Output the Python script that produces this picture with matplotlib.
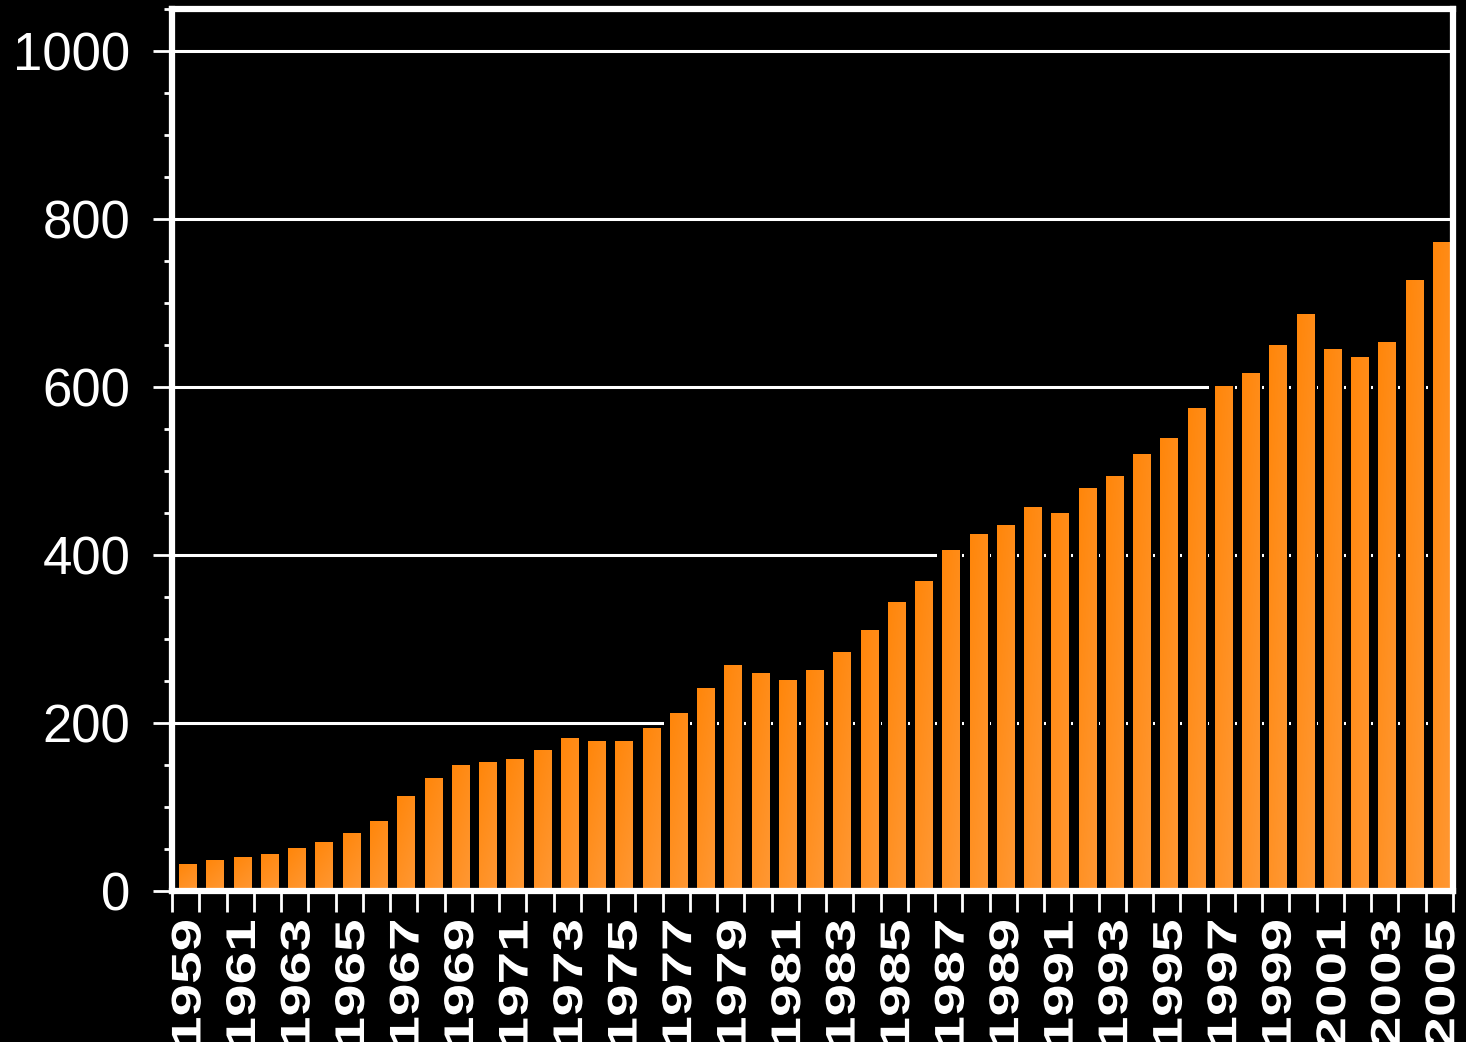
import numpy as np
import matplotlib
matplotlib.use("Agg")
from matplotlib import pyplot as plt
from matplotlib.textpath import TextPath
from matplotlib.patches import PathPatch
from matplotlib.font_manager import FontProperties
from matplotlib.transforms import Affine2D

# data
years = list(range(1959, 2006))
values = [32, 36, 40, 43, 51, 58, 68, 83, 112, 134, 149, 153, 156, 167, 182, 178,
          178, 193, 211, 241, 269, 259, 251, 262, 284, 310, 343, 369, 405, 424, 435,
          457, 449, 479, 493, 520, 539, 575, 601, 616, 649, 686, 645, 635, 653, 727, 772]
y_ticks = [0, 200, 400, 600, 800, 1000]
x_labels = [str(y) for y in years[::2]]

W, H = 1466, 1042
fig = plt.figure(figsize=(W / 100, H / 100), dpi=100, facecolor="black")
ax = fig.add_axes([172 / W, 151 / H, 1281 / W, 882 / H])
ax.set_facecolor("black")

# gridlines behind the bars
for t in y_ticks[1:]:
    ax.axhline(t, color="white", lw=2.2, zorder=0)

x = np.arange(len(years))
# dark shadow behind each bar
ax.bar(x + 0.03, np.array(values) + 2, width=0.93, color="black", zorder=1)

# orange gradient bars (top-left darker, bottom-right lighter)
gy, gx = np.mgrid[0:1:64j, 0:1:64j]
tt = np.clip(0.65 * gy + 0.35 * gx, 0, 1)
top = np.array([255, 134, 10]) / 255
bot = np.array([255, 152, 52]) / 255
grad = top * (1 - tt[..., None]) + bot * tt[..., None]
bw = 0.63
for xi, v in zip(x, values):
    ax.imshow(grad[::-1], extent=[xi + 0.08 - bw / 2, xi + 0.08 + bw / 2, 0, v],
              origin="lower", aspect="auto", zorder=2, interpolation="bilinear")
ax.set_xlim(-0.5, len(years) - 0.5)
ax.set_ylim(0, 1050)

# frame
for s in ax.spines.values():
    s.set_color("white")
    s.set_linewidth(4.5)
    s.set_zorder(5)

ax.set_yticks(y_ticks)
ax.set_yticks(np.arange(0, 1051, 50), minor=True)
ax.tick_params(axis="y", which="major", colors="white", length=14, width=2,
               labelsize=38, pad=16)
ax.tick_params(axis="y", which="minor", colors="white", length=6, width=2)
for lab in ax.get_yticklabels():
    lab.set_fontfamily("Liberation Sans")

ax.set_xticks(np.arange(-0.5, len(years), 1.0))
ax.set_xticklabels([])
ax.tick_params(axis="x", which="major", colors="white", length=15, width=2, pad=0)

# stretched rotated year labels
fp = FontProperties(family="Liberation Sans", weight="bold")
for i, lab in enumerate(x_labels):
    xi = x[::2][i]
    px, _ = ax.transData.transform((xi, 0))
    tp = TextPath((0, 0), lab, size=1, prop=fp)
    ext = tp.get_extents()
    sx, sy = 58.5, 41.5
    tr = (Affine2D().translate(-ext.x1, 0).scale(sx, sy).rotate_deg(90)
          .translate(px + 0.5 * 0.716 * sy, H - 921))
    patch = PathPatch(tp, transform=tr, facecolor="white", edgecolor="none")
    fig.add_artist(patch)

fig.savefig("out.png", dpi=100, facecolor="black")
